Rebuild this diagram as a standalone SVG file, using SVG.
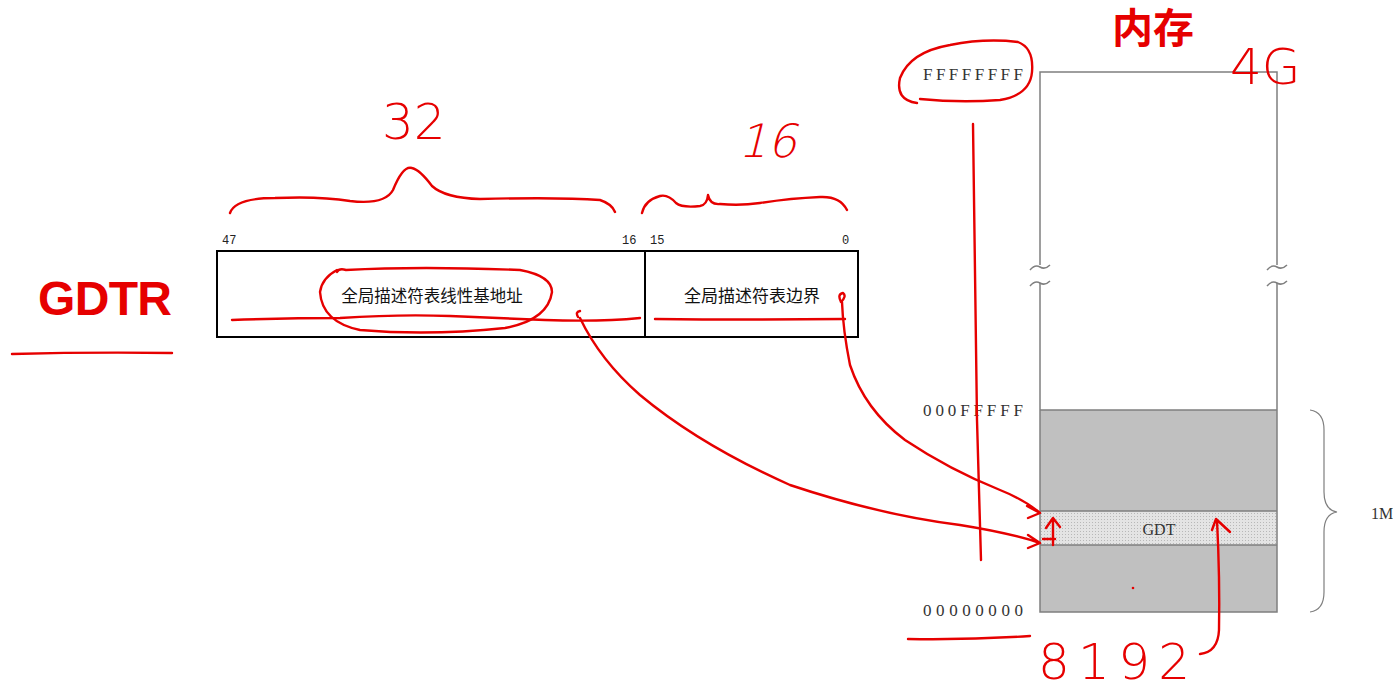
<svg xmlns="http://www.w3.org/2000/svg" width="1393" height="689" viewBox="0 0 1393 689">
<defs>
<style>
.box{fill:#fff;stroke:#000;stroke-width:2}
.mem{stroke:#7f7f7f;stroke-width:1.5;fill:none}
.serif{font-family:"Liberation Serif",serif;fill:#333}
.mono{font-family:"Liberation Mono","DejaVu Sans Mono",monospace;font-size:12px;fill:#222}
.cjk{font-family:"Liberation Sans","Noto Sans CJK SC",sans-serif;fill:#111}
.ink{fill:none;stroke:#e60000;stroke-width:2.4;stroke-linecap:round;stroke-linejoin:round}
.hand{font-family:"DejaVu Sans",sans-serif;font-weight:200;fill:#e60000}
.big{font-family:"Liberation Sans","Noto Sans CJK SC",sans-serif;font-weight:bold;fill:#e60000}
</style>
<pattern id="dots" width="3" height="3" patternUnits="userSpaceOnUse">
<rect width="3" height="3" fill="#e4e4e4"/>
<rect width="1" height="1" fill="#b8b8b8"/>
</pattern>
</defs>
<rect width="1393" height="689" fill="#fff"/>

<g id="title-gdtr">
<text class="big" x="38" y="315" font-size="48" textLength="134">GDTR</text>
</g>
<g id="title-memory">
<text class="big" x="1112" y="43" font-size="41">内存</text>
</g>

<g id="gdtr-register">
<rect class="box" x="217" y="251" width="641" height="86"/>
<line x1="645" y1="251" x2="645" y2="337" stroke="#000" stroke-width="2"/>
<text class="mono" x="222" y="244">47</text>
<text class="mono" x="622" y="244">16</text>
<text class="mono" x="650" y="244">15</text>
<text class="mono" x="842" y="244">0</text>
<text class="cjk" x="432" y="302" font-size="16.5" text-anchor="middle">全局描述符表线性基地址</text>
<text class="cjk" x="752" y="302" font-size="17" text-anchor="middle">全局描述符表边界</text>
</g>

<g id="memory">
<rect x="1040" y="410" width="237" height="202" fill="#c0c0c0"/>
<rect x="1040" y="511" width="237" height="34" fill="url(#dots)"/>
<path class="mem" d="M1040 265 V72 H1277 V265 M1040 283 V612 H1277 V283 M1040 410 H1277 M1040 511 H1277 M1040 545 H1277"/>
<path class="mem" stroke-width="1.2" d="M1030 270 q5 -6 10 -3 t10 -2 M1030 286 q5 -6 10 -3 t10 -2 M1267 270 q5 -6 10 -3 t10 -2 M1267 286 q5 -6 10 -3 t10 -2"/>
<text class="serif" x="1159" y="535" font-size="16" text-anchor="middle">GDT</text>
<text class="serif" x="923" y="80" font-size="17" textLength="100">FFFFFFFF</text>
<text class="serif" x="923" y="416" font-size="17" textLength="100">000FFFFF</text>
<text class="serif" x="923" y="616" font-size="17" textLength="100">00000000</text>
<path fill="none" stroke="#7f7f7f" stroke-width="1.2" d="M1310 410 q14 2 14 20 v62 q0 18 13 20 q-13 2 -13 20 v60 q0 18 -14 20"/>
<text class="serif" x="1371" y="519" font-size="16">1M</text>
</g>

<g id="annotations">
<text class="hand" x="382" y="139" font-size="50">32</text>
<text class="hand" transform="translate(738,157) skewX(-14)" x="0" y="0" font-size="46">16</text>
<text class="hand" x="1230" y="84" font-size="50">4G</text>
<text class="hand" x="1038" y="679" font-size="50" textLength="152" lengthAdjust="spacing">8192</text>
<path class="ink" d="M12 354 Q90 352 172 353"/>
<path class="ink" d="M230 213 Q235 198 275 198 Q320 196 350 201 Q385 205 393 190 Q403 165 412 168 Q420 170 432 186 Q445 198 480 199 Q560 197 600 200 Q612 204 615 212"/>
<path class="ink" d="M642 213 Q645 200 660 196 Q668 194 676 203 Q682 208 700 206 Q707 205 708 195 Q710 205 720 204 Q740 206 760 203 Q790 198 820 197 Q840 196 847 210"/>
<path class="ink" d="M917 103 Q895 100 900 78 Q910 52 950 45 Q985 38 1018 42 Q1034 48 1032 72 Q1030 95 1000 100 Q960 103 920 99"/>
<path class="ink" d="M973 124 Q975 300 977 420 Q979 500 981 560"/>
<path class="ink" d="M908 639 Q970 640 1030 636"/>
<path class="ink" d="M337 272 Q339 268 346 270 Q420 266 520 270 Q552 276 552 292 Q548 320 505 328 Q430 336 360 330 Q322 322 320 292 Q322 278 337 270"/>
<path class="ink" d="M232 320 Q290 318 340 318 Q400 314 450 316 Q500 318 545 320 Q600 322 640 318"/>
<path class="ink" d="M655 319 Q750 320 845 319"/>
<path class="ink" d="M578 317 q-3 -5 2 -6 M580 318 Q600 360 640 395 Q700 445 790 485 Q880 515 960 525 Q1010 533 1040 543 M1028 535 L1040 543 L1028 548"/>
<path class="ink" d="M841 302 q-4 -8 2 -9 q4 3 -2 9 M842 302 Q843 330 850 365 Q865 410 905 440 Q950 470 1000 490 Q1025 500 1040 513 M1027 506 L1040 513 L1028 518"/>
<path class="ink" d="M1053 545 V520 M1046 528 L1053 518 L1060 527 M1043 539 H1055"/>
<path class="ink" d="M1200 654 Q1218 652 1219 630 Q1220 580 1217 520 M1212 530 L1216 519 L1230 532"/>
<circle cx="1133" cy="588" r="1.3" fill="#e60000"/>
</g>
</svg>
